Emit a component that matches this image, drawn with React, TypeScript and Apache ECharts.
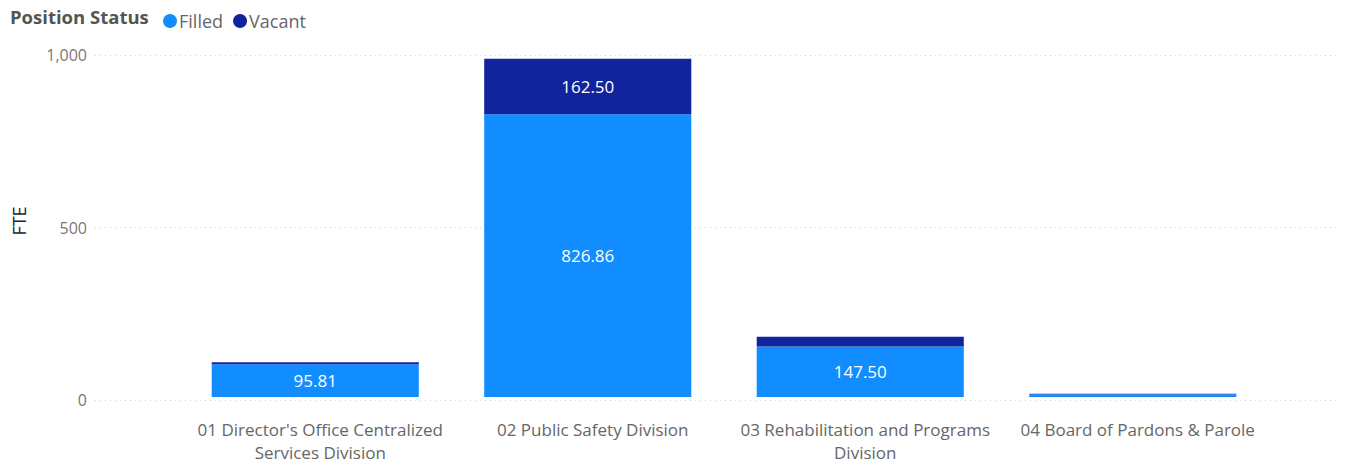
import React, { useEffect, useRef } from "react";
import * as echarts from "echarts";

const categories = [
  "01 Director's Office Centralized Services Division",
  "02 Public Safety Division",
  "03 Rehabilitation and Programs Division",
  "04 Board of Pardons & Parole",
];
const filled = [95.81, 826.86, 147.5, 8];
const vacant = [6, 162.5, 29, 1.5];
const filledLabelShown = [true, true, true, false];
const vacantLabelShown = [false, true, false, false];
const yTicks = [0, 500, 1000];

const FONT = "'Segoe UI', 'Open Sans', sans-serif";

function wrap(s: string, max: number): string {
  const words = s.split(" ");
  const lines: string[] = [];
  let cur = "";
  for (const w of words) {
    if (cur && (cur + " " + w).length > max) {
      lines.push(cur);
      cur = w;
    } else cur = cur ? cur + " " + w : w;
  }
  if (cur) lines.push(cur);
  return lines.join("\n");
}

export default function App() {
  const ref = useRef<HTMLDivElement>(null);
  useEffect(() => {
    const chart = echarts.init(ref.current!, null, { renderer: "svg" });
    const labelStyle = {
      color: "#ffffff",
      fontSize: 17,
      fontFamily: FONT,
      position: "inside" as const,
      formatter: (p: any) => p.value.toFixed(2),
    };
    chart.setOption({
      animation: false,
      backgroundColor: "#ffffff",
      textStyle: { fontFamily: FONT },
      graphic: [
        {
          type: "text",
          left: 10,
          top: 7,
          style: {
            text: "Position Status",
            fontSize: 18.5,
            fontWeight: "bold",
            fill: "#555555",
            fontFamily: FONT,
          },
        },
        {
          type: "text",
          x: 19,
          y: 221,
          rotation: Math.PI / 2,
          style: {
            text: "FTE",
            fontSize: 18,
            fill: "#252525",
            fontFamily: FONT,
            align: "center",
            verticalAlign: "middle",
          },
        },
      ],
      legend: {
        left: 158,
        top: 7,
        icon: "circle",
        itemWidth: 14,
        itemHeight: 14,
        itemGap: 10,
        textStyle: { fontSize: 18, color: "#666666", fontFamily: FONT, padding: [0, 0, 0, -3] },
        data: ["Filled", "Vacant"],
      },
      grid: [
        { left: 95, right: 5, top: 55, bottom: 64 },
        { left: 179, right: 76, top: 55, bottom: 64 },
      ],
      xAxis: [
        { type: "value", gridIndex: 0, show: false, min: 0, max: 1 },
        {
          type: "category",
          gridIndex: 1,
          data: categories,
          axisLine: { show: false },
          axisTick: { show: false },
          axisLabel: {
            color: "#666666",
            fontSize: 17,
            fontFamily: FONT,
            margin: 21,
            lineHeight: 23,
            interval: 0,
            padding: [0, 0, 0, 10],
            formatter: (v: string) => wrap(v, 32),
          },
        },
      ],
      yAxis: [
        {
          type: "value",
          gridIndex: 0,
          min: 0,
          max: 1000,
          interval: 500,
          axisLabel: {
            color: "#777777",
            fontSize: 16,
            fontFamily: FONT,
            margin: 8,
            formatter: (v: number) => (yTicks.includes(v) ? v.toLocaleString("en-US") : ""),
          },
          axisLine: { show: false },
          axisTick: { show: false },
          splitLine: { lineStyle: { color: "#d4d4d4", type: [1, 4], width: 1 } },
        },
        { type: "value", gridIndex: 1, min: 0, max: 1000, show: false, splitLine: { show: false } },
      ],
      series: [
        {
          name: "Filled",
          type: "bar",
          stack: "s",
          xAxisIndex: 1,
          yAxisIndex: 1,
          barCategoryGap: "24%",
          itemStyle: { color: "#118DFF" },
          data: filled.map((v, i) => ({ value: v, label: { show: filledLabelShown[i] } })),
          label: labelStyle,
        },
        {
          name: "Vacant",
          type: "bar",
          stack: "s",
          xAxisIndex: 1,
          yAxisIndex: 1,
          barCategoryGap: "24%",
          itemStyle: { color: "#12239E" },
          data: vacant.map((v, i) => ({ value: v, label: { show: vacantLabelShown[i] } })),
          label: labelStyle,
        },
      ],
    });
    return () => chart.dispose();
  }, []);
  return (
    <div
      ref={ref}
      style={{ position: "fixed", left: 0, top: 0, width: 1345, height: 464 }}
    />
  );
}
